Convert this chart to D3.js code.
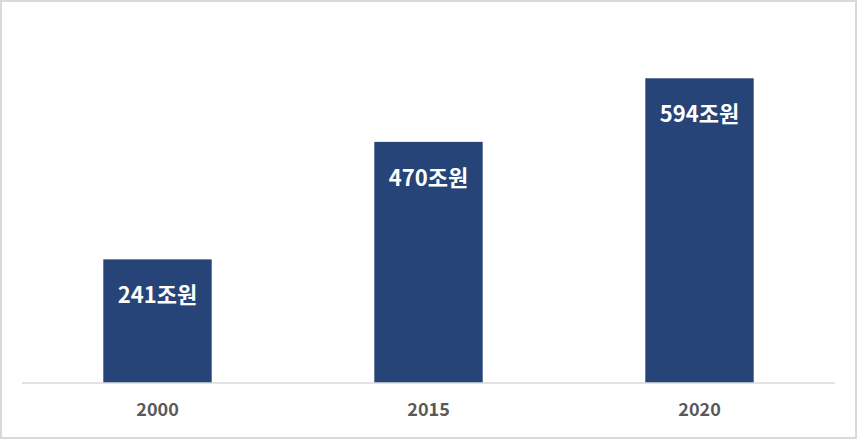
<!DOCTYPE html>
<meta charset="utf-8">
<head>
<style>
  body { margin: 0; background: #fff; }
  .frame { fill: #fff; stroke: #d9d9d9; stroke-width: 2px; }
  .bar { fill: #264478; }
  .val { fill: #fff; font: bold 22px "Noto Sans CJK KR", "Noto Sans", sans-serif; }
  .tick text { fill: #595959; font: bold 18px "Noto Sans CJK KR", "Noto Sans", sans-serif; }
</style>
</head>
<body>
<div id="content"></div>
<script src="https://d3js.org/d3.v7.min.js"></script>
<script>
var years = ["2000", "2015", "2020"];
var values = [241, 470, 594];
var labels = ["241조원", "470조원", "594조원"];

var width = 858, height = 440;
var left = 22, right = 835, base = 383;

var svg = d3.select("#content").append("svg")
    .attr("width", width)
    .attr("height", height);

svg.append("rect").attr("class", "frame")
    .attr("x", 1).attr("y", 1)
    .attr("width", width - 3).attr("height", height - 3);

var x = d3.scaleBand()
    .domain(years)
    .range([left, right])
    .paddingInner(0.6)
    .paddingOuter(0.3);

var y = d3.scaleLinear()
    .domain([0, 700])
    .range([base, base - 0.513 * 700]);

var data = years.map(function(d, i) { return {year: d, value: values[i], label: labels[i]}; });

svg.selectAll(".bar")
  .data(data)
  .enter()
  .append("rect")
    .attr("class", "bar")
    .attr("x", function(d) { return x(d.year); })
    .attr("y", function(d) { return y(d.value); })
    .attr("width", x.bandwidth())
    .attr("height", function(d) { return base - y(d.value); });

svg.selectAll(".val")
  .data(data)
  .enter()
  .append("text")
    .attr("class", "val")
    .attr("text-anchor", "middle")
    .attr("x", function(d) { return x(d.year) + x.bandwidth() / 2; })
    .attr("y", function(d) { return y(d.value) + 44; })
    .text(function(d) { return d.label; });

var axis = svg.append("g")
    .attr("transform", "translate(0," + base + ")")
    .call(d3.axisBottom(x).tickSize(0).tickPadding(20));
axis.select(".domain").attr("stroke", "#d9d9d9").attr("stroke-width", 1.5)
    .attr("d", "M" + left + ",0H" + right);
axis.selectAll(".tick text").attr("font-family", null).attr("font-size", null);
</script>
</body>
</html>
